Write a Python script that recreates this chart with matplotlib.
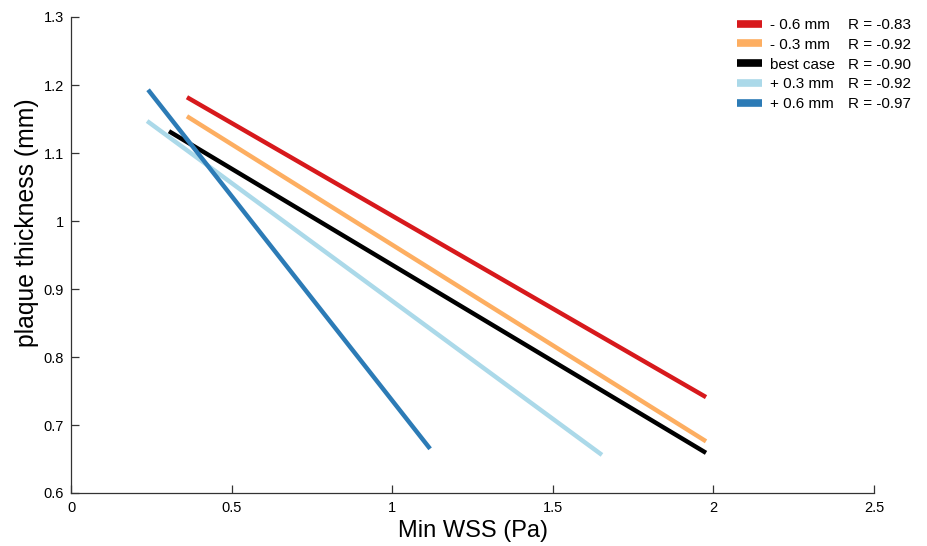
import matplotlib
matplotlib.use("Agg")
import matplotlib.pyplot as plt

plt.rcParams['font.family'] = ['Liberation Sans', 'DejaVu Sans']

# Dados (extremos de cada reta de regressão)
labels = ['- 0.6 mm', '- 0.3 mm', 'best case', '+ 0.3 mm', '+ 0.6 mm']
r_values = ['R = -0.83', 'R = -0.92', 'R = -0.90', 'R = -0.92', 'R = -0.97']
x_start = [0.361, 0.361, 0.305, 0.237, 0.240]
x_end = [1.977, 1.977, 1.977, 1.653, 1.118]
y_start = [1.182, 1.154, 1.132, 1.147, 1.193]
y_end = [0.741, 0.676, 0.659, 0.656, 0.665]
colors = ['#d7191c', '#fdae61', '#000000', '#abd9e9', '#2c7bb6']

W, H = 927, 546
fig = plt.figure(figsize=(W / 100, H / 100), dpi=100)
ax = fig.add_axes([71 / W, 53 / H, 803 / W, 476 / H])

for i in range(len(labels)):
    ax.plot([x_start[i], x_end[i]], [y_start[i], y_end[i]],
            color=colors[i], lw=3.2, solid_capstyle='butt', label=labels[i])

ax.set_xlim(0, 2.5)
ax.set_ylim(0.6, 1.3)
ax.set_xticks([0, 0.5, 1, 1.5, 2, 2.5])
ax.set_xticklabels(['0', '0.5', '1', '1.5', '2', '2.5'])
ax.set_yticks([0.6, 0.7, 0.8, 0.9, 1.0, 1.1, 1.2, 1.3])
ax.set_yticklabels(['0.6', '0.7', '0.8', '0.9', '1', '1.1', '1.2', '1.3'])
ax.tick_params(direction='in', length=6, labelsize=10.5, width=0.9,
               color='#333333')
ax.tick_params(axis='x', pad=6)
ax.tick_params(axis='y', pad=5)
for s in ['left', 'bottom']:
    ax.spines[s].set_color('#333333')
    ax.spines[s].set_linewidth(0.9)
ax.spines['top'].set_visible(False)
ax.spines['right'].set_visible(False)
ax.set_xlabel('Min WSS (Pa)', fontsize=17, labelpad=3)
ax.set_ylabel('plaque thickness (mm)', fontsize=17.8)
ax.yaxis.set_label_coords(-0.04, 0.567)

leg = ax.legend(loc='upper left', bbox_to_anchor=(737 / W, 528 / H),
                bbox_transform=fig.transFigure, frameon=False,
                fontsize=11, handlelength=1.65, handletextpad=0.5,
                labelspacing=0.38, borderaxespad=0, borderpad=0)
for h in leg.get_lines():
    h.set_linewidth(5.5)

fig.canvas.draw()
inv = fig.transFigure.inverted()
for t, r in zip(leg.get_texts(), r_values):
    bb = t.get_window_extent()
    yc = (bb.y0 + bb.y1) / 2
    xf, yf = inv.transform((848, yc))
    fig.text(xf, yf, r, fontsize=11, va='center', ha='left')

fig.savefig('out.png', dpi=100)
